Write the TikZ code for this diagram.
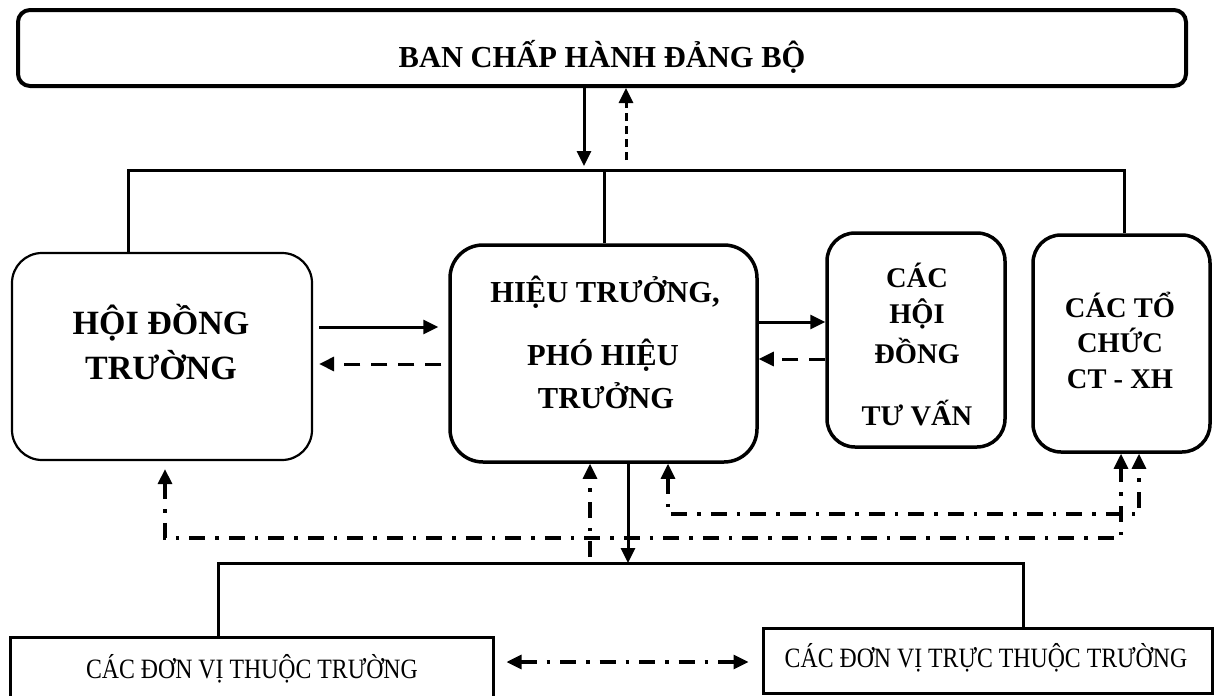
\documentclass[tikz,border=0pt]{standalone}
\usepackage{fontspec}
\setmainfont{Liberation Serif}
\newfontfamily\condfont{Liberation Serif}[FakeStretch=0.85]
\usetikzlibrary{arrows.meta}
\begin{document}
\begin{tikzpicture}[x=1pt,y=-1pt,
  >={Triangle[length=15pt,width=14pt]},
  box/.style={draw, inner sep=0pt, line width=3.5pt},
  bus/.style={line width=3pt},
  conn/.style={line width=3pt},
  dashconn/.style={line width=3pt, dash pattern=on 16pt off 11pt},
  dashtop/.style={line width=3pt, dash pattern=on 8pt off 5pt},
  dd/.style={line width=3.2pt, dash pattern=on 16pt off 10pt on 3.5pt off 10pt},
  ftitle/.style={font=\fontsize{30.5}{36}\selectfont\bfseries},
  fhdt/.style={font=\fontsize{34}{40}\selectfont\bfseries},
  fht/.style={font=\fontsize{30.5}{36}\selectfont\bfseries},
  fsm/.style={font=\fontsize{28.5}{34}\selectfont\bfseries},
  fbot/.style={font=\fontsize{28}{34}\selectfont\condfont},
  lbl/.style={anchor=base, inner sep=0pt}
]
\useasboundingbox (0,0) rectangle (1216,696);
\clip (0,0) rectangle (1216,696);

% boxes
\node[box, line width=4pt, rounded corners=12pt, minimum width=1168pt, minimum height=76pt] (bch) at (602,48) {};
\node[box, line width=2.2pt, rounded corners=30pt, minimum width=300pt, minimum height=207pt] (hdt) at (162,356.5) {};
\node[box, rounded corners=33pt, minimum width=307pt, minimum height=217pt] (ht) at (603.5,353.5) {};
\node[box, rounded corners=28pt, minimum width=178pt, minimum height=214pt] (chdtv) at (916,340) {};
\node[box, rounded corners=28pt, minimum width=177pt, minimum height=217pt] (ctc) at (1121.5,343.5) {};
\node[box, line width=3pt, minimum width=483pt, minimum height=65pt] (ubl) at (251.5,669.5) {};
\node[box, line width=3pt, minimum width=449pt, minimum height=65pt] (ubr) at (987.5,660.5) {};

% texts
\node[lbl, ftitle] (t0) at (602,67) {BAN CHẤP HÀNH ĐẢNG BỘ};
\node[lbl, fhdt] (t1) at (161,334) {HỘI ĐỒNG};
\node[lbl, fhdt] (t2) at (161,379) {TRƯỜNG};
\node[lbl, fht] (t3) at (605,302) {HIỆU TRƯỞNG,};
\node[lbl, fht] (t4) at (603,365) {PHÓ HIỆU};
\node[lbl, fht] (t5) at (606,408) {TRƯỞNG};
\node[lbl, fsm] (t6) at (917,287) {CÁC};
\node[lbl, fsm] (t7) at (917,323) {HỘI};
\node[lbl, fsm] (t8) at (917,363) {ĐỒNG};
\node[lbl, fsm] (t9) at (917,425) {TƯ VẤN};
\node[lbl, fsm] (t10) at (1120,317) {CÁC TỔ};
\node[lbl, fsm] (t11) at (1120,352) {CHỨC};
\node[lbl, fsm] (t12) at (1120,388) {CT - XH};
\node[lbl, fbot] (t13) at (252,678) {CÁC ĐƠN VỊ THUỘC TRƯỜNG};
\node[lbl, fbot] (t14) at (986,667) {CÁC ĐƠN VỊ TRỰC THUỘC TRƯỜNG};

% coordinates
\coordinate (dnEnd) at (584,166);
\coordinate (upStart) at (626,160);
\coordinate (busL) at (128,170);
\coordinate (busC) at (604,170);
\coordinate (busR) at (1124,170);
\coordinate (yA) at (0,327);
\coordinate (yB) at (0,364);
\coordinate (yC) at (0,322);
\coordinate (yD) at (0,359);
\coordinate (yE) at (0,662);
\coordinate (ddL) at (165,538);
\coordinate (ddR) at (1121,538);
\coordinate (ddL2) at (668,514);
\coordinate (ddR2) at (1139,514);
\coordinate (ddA) at (590,557);
\coordinate (bus2C) at (628,563);
\coordinate (bus2L) at (218,563);
\coordinate (bus2R) at (1023,563);

% top connectors
\draw[conn,->] (bch.south -| dnEnd) -- (dnEnd);
\draw[dashtop,->] (upStart) -- (bch.south -| upStart);
\draw[bus] (hdt.north -| busL) -- (busL) -- (busR) -- (ctc.north -| busR);
\draw[bus] (busC) -- (ht.north -| busC);

% horizontal connectors
\draw[conn,->,shorten <=6pt,shorten >=10pt] (hdt.east |- yA) -- (ht.west |- yA);
\draw[dashconn,->,shorten <=7pt,shorten >=6pt] (ht.west |- yB) -- (hdt.east |- yB);
\draw[conn,->] (ht.east |- yC) -- (chdtv.west |- yC);
\draw[dashconn,->] (chdtv.west |- yD) -- (ht.east |- yD);

% dash-dot feedback lines
\draw[dd,<->,shorten <=8pt] (hdt.south -| ddL) -- (ddL) -- (ddR) -- (ctc.south -| ddR);
\draw[dd,<->] (ht.south -| ddL2) -- (ddL2) -- (ddR2) -- (ctc.south -| ddR2);
\draw[dd,->] (ddA) -- (ht.south -| ddA);

% bottom
\draw[conn,->] (ht.south -| bus2C) -- (bus2C);
\draw[bus] (ubl.north -| bus2L) -- (bus2L) -- (bus2R) -- (ubr.north -| bus2R);
\draw[dd,<->,shorten <=12pt,shorten >=13pt] (ubl.east |- yE) -- (ubr.west |- yE);
\end{tikzpicture}
\end{document}
